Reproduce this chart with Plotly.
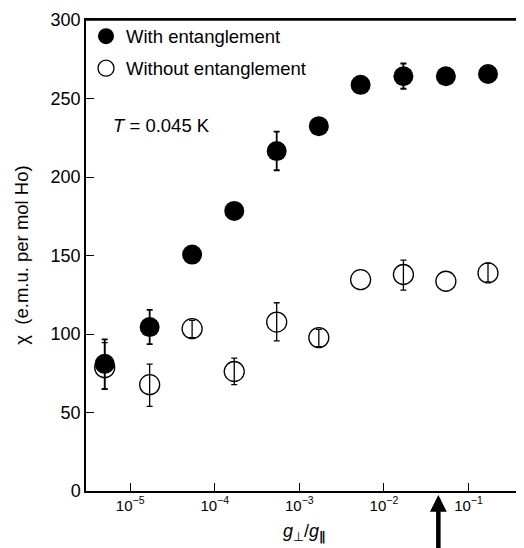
import math
import plotly.graph_objects as go

# ---- data ----
g_ratio = [5.0e-6, 1.7e-5, 5.4e-5, 1.7e-4, 5.4e-4, 1.7e-3, 5.3e-3, 1.7e-2, 5.4e-2, 1.7e-1]

chi_with = [81.0, 104.4, 150.6, 178.4, 216.5, 232.4, 258.7, 264.2, 264.2, 265.6]
err_with_plus = [15.6, 11.0, None, None, 12.4, None, None, 8.1, None, None]
err_with_minus = [16.1, 10.9, None, None, 12.2, None, None, 8.0, None, None]

chi_without = [78.6, 67.7, 103.4, 76.1, 107.6, 97.7, 134.6, 137.9, 133.6, 138.9]
err_without_plus = [15.9, 13.1, 5.3, 8.5, 12.3, 5.3, None, 9.2, None, 6.3]
err_without_minus = [13.7, 13.8, 5.7, 8.4, 12.0, 5.7, None, 10.0, None, 5.7]

x_tickvals = [1e-5, 1e-4, 1e-3, 1e-2, 1e-1]
x_ticktext = ["10<sup>\u22125</sup>", "10<sup>\u22124</sup>", "10<sup>\u22123</sup>",
              "10<sup>\u22122</sup>", "10<sup>\u22121</sup>"]
y_tickvals = [0, 50, 100, 150, 200, 250, 300]

arrow_x = 0.044  # marked g-ratio (arrow)

FONT = "Liberation Sans, Arial, Helvetica, sans-serif"
SYM = "<span style='font-family:DejaVu Sans'>"
X_RANGE = [-5.522, -0.344]


def err(values):
    # points without a measured error bar: non-numeric so plotly draws nothing
    return [v if v is not None else "NaN" for v in values]


fig = go.Figure()

fig.add_trace(go.Scatter(
    x=g_ratio, y=chi_without, mode="markers", name="Without entanglement",
    legendgroup="b", legendrank=2,
    marker=dict(symbol="circle-open", size=20, color="black", line=dict(width=1.3, color="black")),
    error_y=dict(type="data", symmetric=False, array=err(err_without_plus),
                 arrayminus=err(err_without_minus), color="black", thickness=1.3, width=3),
))
fig.add_trace(go.Scatter(
    x=g_ratio, y=chi_with, mode="markers", name="With entanglement",
    legendgroup="a", legendrank=1,
    marker=dict(symbol="circle", size=20, color="black", line=dict(width=0)),
    error_y=dict(type="data", symmetric=False, array=err(err_with_plus),
                 arrayminus=err(err_with_minus), color="black", thickness=1.8, width=3),
))
# invisible trace carrying the right-side ticks
fig.add_trace(go.Scatter(x=[g_ratio[0]], y=[chi_with[0]], yaxis="y2", mode="markers",
                         marker=dict(opacity=0), showlegend=False, hoverinfo="skip"))

fig.update_layout(
    width=524, height=548,
    margin=dict(l=78, r=8, t=12, b=65, pad=0),
    paper_bgcolor="white", plot_bgcolor="white",
    font=dict(family=FONT, color="black", size=17),
    showlegend=True,
    legend=dict(x=0.0, y=1.005, xanchor="left", yanchor="top", traceorder="grouped",
                bgcolor="rgba(255,255,255,0)", font=dict(size=18.5, family=FONT),
                tracegroupgap=5, itemwidth=30),
    xaxis=dict(
        type="log", range=X_RANGE,
        tickvals=x_tickvals, ticktext=x_ticktext,
        ticks="inside", ticklen=8, tickwidth=1.2, tickcolor="black",
        showline=True, linecolor="black", linewidth=1.5, mirror=True,
        showgrid=False, zeroline=False, automargin=False,
        ticklabeloverflow="allow",
        tickfont=dict(size=15, family=FONT),
    ),
    yaxis=dict(
        range=[0, 300], tickvals=y_tickvals,
        ticks="inside", ticklen=8, tickwidth=1.2, tickcolor="black",
        showline=True, linecolor="black", linewidth=1.5, mirror=True,
        showgrid=False, zeroline=False, automargin=False,
        ticklabeloverflow="allow",
        tickfont=dict(size=18, family=FONT),
    ),
    yaxis2=dict(
        overlaying="y", side="right", anchor="x", matches="y",
        range=[0, 300], tickvals=y_tickvals,
        ticks="inside", ticklen=5, tickwidth=1.2, tickcolor="black",
        showticklabels=False, showline=False, showgrid=False, zeroline=False,
        automargin=False,
    ),
    shapes=[
        # frame line along the top of the plot area
        dict(type="line", xref="paper", yref="paper", x0=0, x1=1, y0=1, y1=1,
             line=dict(color="black", width=1.5), layer="above"),
    ],
    annotations=[
        dict(text="<i>T</i> = 0.045 K", xref="paper", yref="paper",
             x=0.0564, y=0.775, xanchor="left", yanchor="middle",
             showarrow=False, font=dict(size=18.5, family=FONT)),
        dict(text="\u03c7  (e.m.u. per mol Ho)", xref="paper", yref="paper",
             x=-0.148, y=0.5, xanchor="center", yanchor="middle", textangle=-90,
             showarrow=False, font=dict(size=18.5, family=FONT)),
        dict(text="<i>g</i><sub>" + SYM + "\u22a5</span></sub>/<i>g</i><sub>" + SYM + "<b>\u2225</b></span></sub>",
             xref="paper", yref="paper",
             x=0.4977, y=-0.0886, xanchor="center", yanchor="middle",
             showarrow=False, font=dict(size=18, family=FONT)),
        # arrow marking a g-ratio; annotations on log axes take log10 of the value
        dict(text="", x=math.log10(arrow_x), xref="x", y=-0.0084, yref="paper",
             showarrow=True, ax=0, ay=70, arrowhead=2, arrowwidth=4.5, arrowsize=0.75,
             arrowcolor="black", standoff=0),
    ],
)

fig.write_html("out.html", config={"displayModeBar": False})
